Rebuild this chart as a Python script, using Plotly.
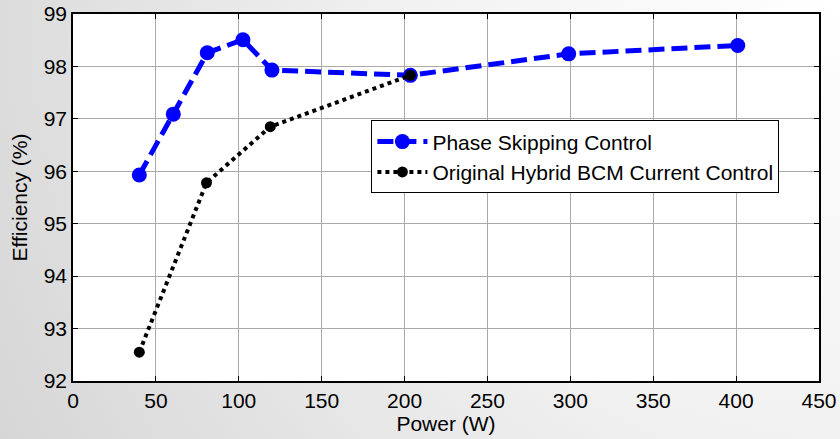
import base64
import plotly.graph_objects as go

power_psc = [40, 60.5, 81, 102.5, 120, 203.5, 299, 401]
eff_psc = [95.93, 97.09, 98.26, 98.51, 97.93, 97.83, 98.24, 98.40]

power_orig = [40, 80.5, 119, 203.5]
eff_orig = [92.55, 95.78, 96.85, 97.83]

x_ticks = [0, 50, 100, 150, 200, 250, 300, 350, 400, 450]
y_ticks = [92, 93, 94, 95, 96, 97, 98, 99]

W, H = 840, 439
ML, MR, MT, MB = 73, 21, 14, 58
PW, PH = W - ML - MR, H - MT - MB

# background gradient (light gray, whiter towards top-right) with white plot area
svg = f'''<svg xmlns="http://www.w3.org/2000/svg" width="{W}" height="{H}" viewBox="0 0 {W} {H}" preserveAspectRatio="none">
<defs><radialGradient id="g" gradientUnits="userSpaceOnUse" cx="{W}" cy="0" r="950">
<stop offset="0" stop-color="#ffffff"/><stop offset="0.45" stop-color="#f2f2f2"/><stop offset="1" stop-color="#d6d6d6"/></radialGradient></defs>
<rect x="0" y="0" width="{W}" height="{H}" fill="url(#g)"/>
<rect x="{ML}" y="{MT}" width="{PW}" height="{PH}" fill="#ffffff"/>
</svg>'''
bg_uri = "data:image/svg+xml;base64," + base64.b64encode(svg.encode()).decode()

fig = go.Figure()
fig.add_trace(go.Scatter(
    x=power_psc, y=eff_psc, mode="lines+markers",
    name="Phase Skipping Control",
    line=dict(color="#0000ff", width=5, dash="16px,7px"),
    marker=dict(color="#0000ff", size=15, symbol="circle"),
))
fig.add_trace(go.Scatter(
    x=power_orig, y=eff_orig, mode="lines+markers",
    name="Original Hybrid BCM Current Control",
    line=dict(color="black", width=4, dash="dot"),
    marker=dict(color="black", size=11, symbol="circle"),
))

axis_common = dict(
    showgrid=True, gridcolor="#aaaaaa", gridwidth=1,
    showline=True, linecolor="black", linewidth=1.5, mirror="allticks",
    ticks="inside", ticklen=5, tickcolor="black",
    tickfont=dict(family="Liberation Sans, Arial", size=21, color="black"),
    zeroline=False, automargin=False,
)

fig.update_layout(
    width=W, height=H,
    margin=dict(l=ML, r=MR, t=MT, b=MB),
    paper_bgcolor="#ebebeb",
    plot_bgcolor="white",
    font=dict(family="Liberation Sans, Arial", color="black"),
    images=[dict(source=bg_uri, xref="paper", yref="paper",
                 x=-ML / PW, y=1 + MT / PH, sizex=W / PW, sizey=H / PH,
                 xanchor="left", yanchor="top", sizing="stretch", layer="below")],
    xaxis=dict(range=[0, 450], tickvals=x_ticks,
               title=dict(text="Power (W)", font=dict(size=21), standoff=0),
               **axis_common),
    yaxis=dict(range=[92, 99], tickvals=y_ticks,
               title=dict(text="Efficiency (%)", font=dict(size=21), standoff=10),
               **axis_common),
    legend=dict(x=0.40, y=0.71, xanchor="left", yanchor="top",
                bgcolor="white", bordercolor="black", borderwidth=1,
                font=dict(size=21, color="black"), tracegroupgap=0,
                itemwidth=50),
    showlegend=True,
)

fig.write_html("out.html", config={"displayModeBar": False},
               post_script="document.body.style.margin='0';")
